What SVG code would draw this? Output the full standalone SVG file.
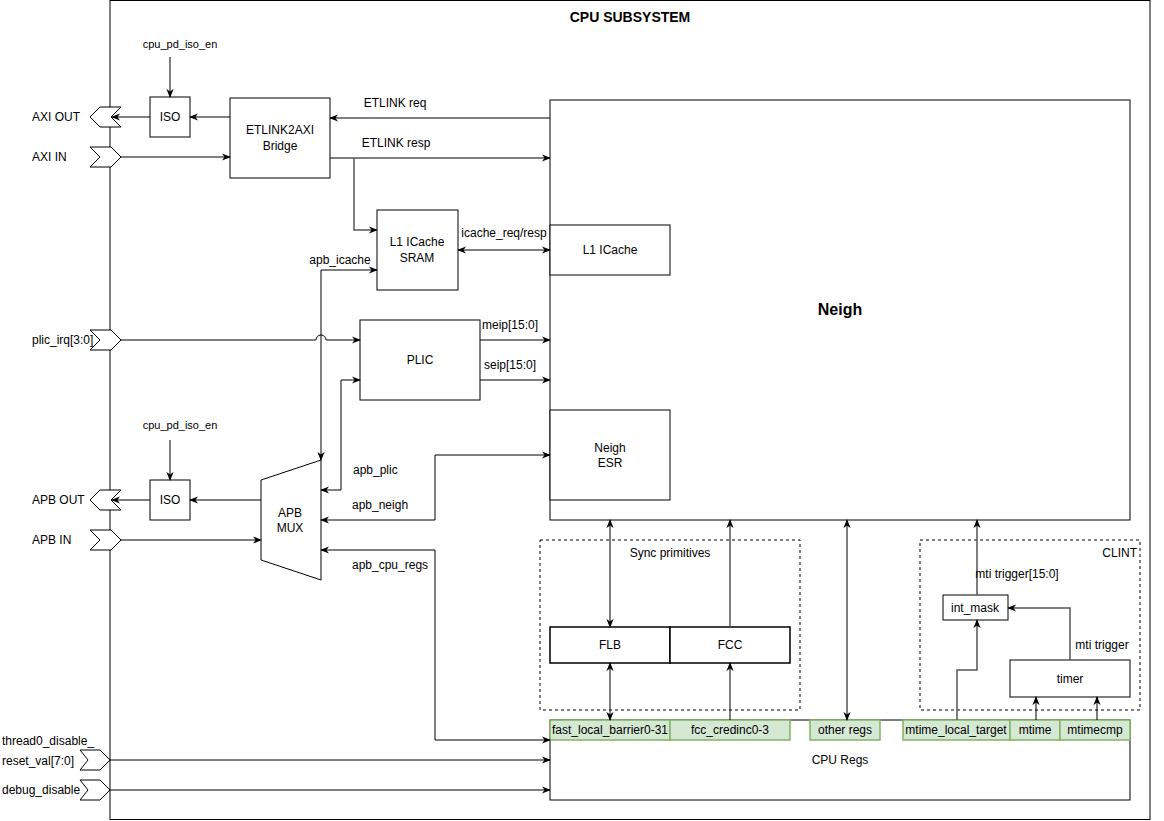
<svg xmlns="http://www.w3.org/2000/svg" width="1164" height="821" viewBox="0 0 1164 821">
<defs>
<marker id="a" viewBox="0 0 10 10" refX="9" refY="5" markerWidth="9" markerHeight="9" markerUnits="userSpaceOnUse" orient="auto-start-reverse"><path d="M0,1 L10,5 L0,9 L3,5 Z" fill="#000"/></marker>
<style>
text{font-family:"Liberation Sans",Arial,sans-serif;font-size:12px;fill:#000}
.c{text-anchor:middle}
.b{fill:#fff;stroke:#000;stroke-width:1}
.g{fill:#d5e8d4;stroke:#82b366;stroke-width:1.5}
.d{fill:none;stroke:#000;stroke-dasharray:3,3}
.l{fill:none;stroke:#000;stroke-width:1}
.l2{fill:none;stroke:#555;stroke-width:1.5}
</style>
</defs>
<rect x="0" y="0" width="1164" height="821" fill="#fff"/>
<rect x="110" y="0.5" width="1040" height="819" class="b"/>
<text x="630" y="22" class="c" style="font-weight:bold;font-size:14px">CPU SUBSYSTEM</text>

<g id="ports">
<polygon points="90,117 100,107 121,107 111,117 121,127 100,127" class="b"/><text x="32" y="121">AXI OUT</text>
<polygon points="90,147 111,147 121,157 111,167 90,167 100,157" class="b"/><text x="32" y="161">AXI IN</text>
<polygon points="90,330 111,330 121,340 111,350 90,350 100,340" class="b"/><text x="32" y="344">plic_irq[3:0]</text>
<polygon points="90,500 100,490 121,490 111,500 121,510 100,510" class="b"/><text x="32" y="504">APB OUT</text>
<polygon points="90,530 111,530 121,540 111,550 90,550 100,540" class="b"/><text x="32" y="544">APB IN</text>
<polygon points="80,750 100,750 110,760 100,770 80,770 88,760" class="b"/><text x="2" y="745">thread0_disable_</text><text x="2" y="765">reset_val[7:0]</text>
<polygon points="80,780 100,780 110,790 100,800 80,800 88,790" class="b"/><text x="2" y="794">debug_disable</text>
</g>

<g id="iso_top"><rect x="150" y="97" width="40" height="40" class="b"/><text x="170" y="121" class="c">ISO</text></g>
<text x="180" y="48" class="c" style="font-size:11px">cpu_pd_iso_en</text>
<g id="iso_bot"><rect x="150" y="480" width="40" height="40" class="b"/><text x="170" y="504" class="c">ISO</text></g>
<text x="180" y="429" class="c" style="font-size:11px">cpu_pd_iso_en</text>
<g id="bridge"><rect x="230" y="98" width="100" height="80" class="b"/><text x="280" y="134" class="c">ETLINK2AXI</text><text x="280" y="150" class="c">Bridge</text></g>
<g id="sram"><rect x="377" y="210" width="81" height="80" class="b"/><text x="417" y="246" class="c">L1 ICache</text><text x="417" y="262" class="c">SRAM</text></g>
<g id="plic"><rect x="360" y="320" width="120" height="80" class="b"/><text x="420" y="364" class="c">PLIC</text></g>
<g id="mux"><polygon points="261,480 321,460 321,580 261,560" class="b"/><text x="290" y="517" class="c">APB</text><text x="290" y="532" class="c">MUX</text></g>
<g id="neigh"><rect x="550" y="100" width="580" height="420" class="b"/><text x="840" y="315" class="c" style="font-weight:bold;font-size:16px">Neigh</text>
<rect x="550" y="225" width="120" height="50" class="b"/><text x="610" y="254" class="c">L1 ICache</text>
<rect x="550" y="410" width="120" height="90" class="b"/><text x="610" y="452" class="c">Neigh</text><text x="610" y="467" class="c">ESR</text></g>

<g id="sync"><rect x="540" y="540" width="260" height="170" class="d"/><text x="670" y="557" class="c">Sync primitives</text>
<rect x="550" y="627" width="120" height="36" class="b" style="stroke-width:1.5"/><text x="610" y="649" class="c">FLB</text>
<rect x="670" y="627" width="120" height="36" class="b" style="stroke-width:1.5"/><text x="730" y="649" class="c">FCC</text></g>
<g id="clint"><rect x="920" y="540" width="220" height="170" class="d"/><text x="1137" y="557" style="text-anchor:end">CLINT</text>
<rect x="943" y="595" width="65" height="25" class="b"/><text x="975" y="612" class="c">int_mask</text>
<rect x="1010" y="660" width="120" height="37" class="b"/><text x="1070" y="683" class="c">timer</text></g>

<g id="cpuregs"><rect x="550" y="720" width="580" height="80" class="b"/><text x="840" y="764" class="c">CPU Regs</text>
<rect x="550" y="720" width="120" height="20" class="g"/><text x="610" y="734" class="c">fast_local_barrier0-31</text>
<rect x="670" y="720" width="120" height="20" class="g"/><text x="730" y="734" class="c">fcc_credinc0-3</text>
<rect x="810" y="720" width="70" height="20" class="g"/><text x="845" y="734" class="c">other regs</text>
<rect x="903" y="720" width="107" height="20" class="g"/><text x="956" y="734" class="c">mtime_local_target</text>
<rect x="1010" y="720" width="50" height="20" class="g"/><text x="1035" y="734" class="c">mtime</text>
<rect x="1060" y="720" width="70" height="20" class="g"/><text x="1095" y="734" class="c">mtimecmp</text></g>

<g id="connectors">
<path d="M170,57 V97" class="l" marker-end="url(#a)"/>
<path d="M170,440 V480" class="l" marker-end="url(#a)"/>
<path d="M150,117 H112" class="l" marker-end="url(#a)"/>
<path d="M230,117 H190" class="l" marker-end="url(#a)"/>
<path d="M121,157 H230" class="l" marker-end="url(#a)"/>
<path d="M550,118 H330" class="l" marker-end="url(#a)"/>
<path d="M330,158 H550" class="l" marker-end="url(#a)"/>
<path d="M354,158 V230 H377" class="l2" marker-end="url(#a)"/>
<path d="M458,250 H550" class="l" marker-start="url(#a)" marker-end="url(#a)"/>
<path d="M377,270 H321 V460" class="l" marker-start="url(#a)" marker-end="url(#a)"/>
<path d="M121,340 H316 a5,5 0 0 1 10,0 H360" class="l" marker-end="url(#a)"/>
<path d="M321,490 H341 V380 H360" class="l" marker-start="url(#a)" marker-end="url(#a)"/>
<path d="M321,520 H435 V455 H550" class="l" marker-start="url(#a)" marker-end="url(#a)"/>
<path d="M321,550 H435 V740 H550" class="l" marker-start="url(#a)" marker-end="url(#a)"/>
<path d="M480,340 H550" class="l" marker-end="url(#a)"/>
<path d="M480,380 H550" class="l" marker-end="url(#a)"/>
<path d="M261,500 H190" class="l" marker-end="url(#a)"/>
<path d="M150,500 H112" class="l" marker-end="url(#a)"/>
<path d="M121,540 H261" class="l2" marker-end="url(#a)"/>
<path d="M110,760 H550" class="l" marker-end="url(#a)"/>
<path d="M110,790 H550" class="l" marker-end="url(#a)"/>
<path d="M610,520 V627" class="l2" marker-start="url(#a)" marker-end="url(#a)"/>
<path d="M610,663 V720" class="l" marker-start="url(#a)" marker-end="url(#a)"/>
<path d="M730,627 V520" class="l2" marker-end="url(#a)"/>
<path d="M730,720 V663" class="l" marker-end="url(#a)"/>
<path d="M847,520 V720" class="l2" marker-start="url(#a)" marker-end="url(#a)"/>
<path d="M977,595 V520" class="l2" marker-end="url(#a)"/>
<path d="M957,720 V670 H977 V620" class="l2" marker-end="url(#a)"/>
<path d="M1070,660 V608 H1008" class="l2" marker-end="url(#a)"/>
<path d="M1036,720 V697" class="l" marker-end="url(#a)"/>
<path d="M1097,720 V697" class="l" marker-end="url(#a)"/>
</g>
<g id="labels">
<text x="395" y="107" class="c">ETLINK req</text>
<text x="396" y="147" class="c">ETLINK resp</text>
<text x="504" y="237" class="c">icache_req/resp</text>
<text x="340" y="264" class="c">apb_icache</text>
<text x="482" y="329">meip[15:0]</text>
<text x="484" y="369">seip[15:0]</text>
<text x="353" y="474">apb_plic</text>
<text x="352" y="509">apb_neigh</text>
<text x="352" y="569">apb_cpu_regs</text>
<text x="1017" y="578" class="c">mti trigger[15:0]</text>
<text x="1102" y="649" class="c">mti trigger</text>
</g>
</svg>
